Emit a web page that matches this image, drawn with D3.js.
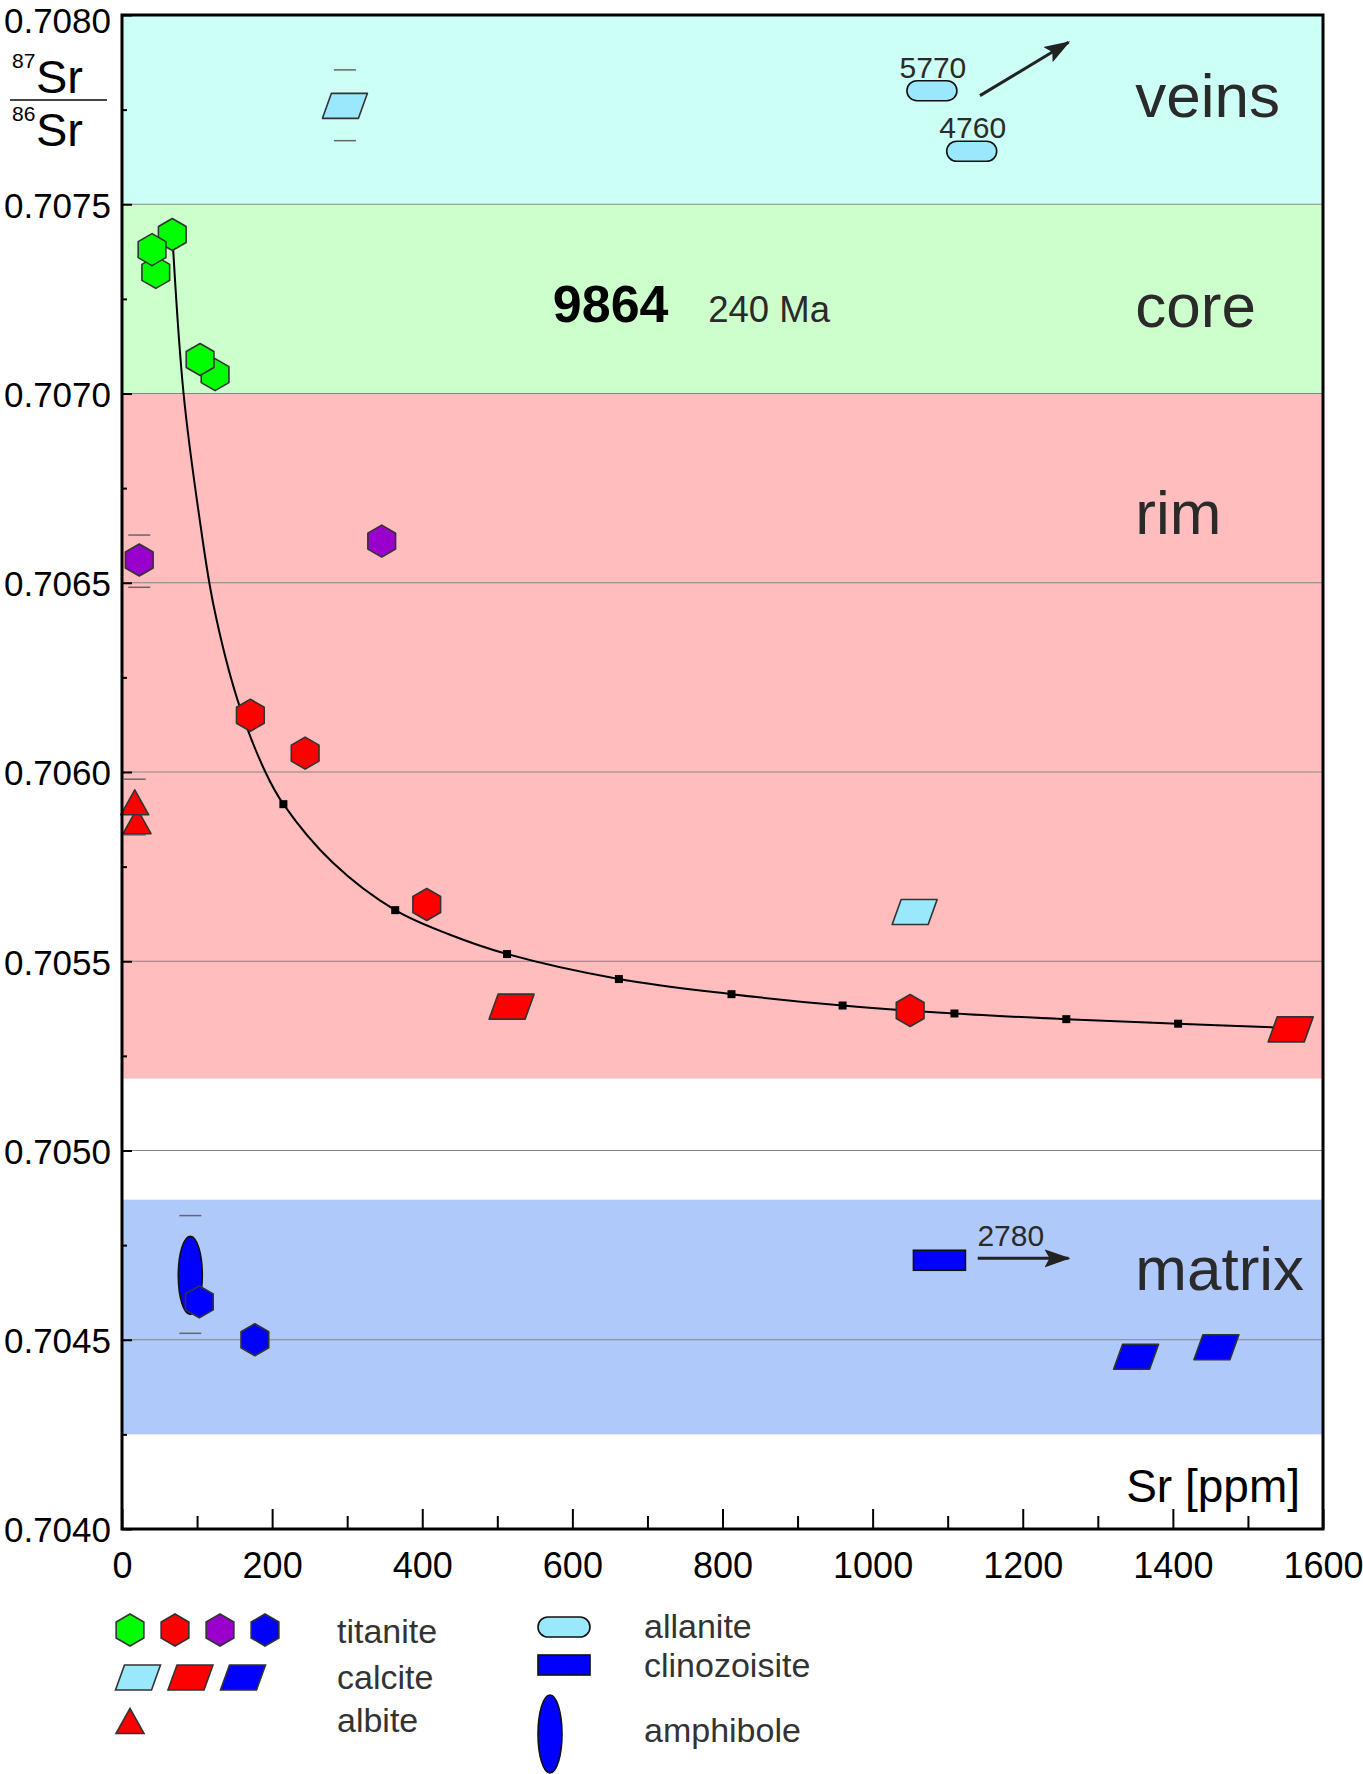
<!DOCTYPE html>
<html>
<head>
<meta charset="utf-8">
<script src="https://cdn.jsdelivr.net/npm/d3@7"></script>
<style>
  body { margin: 0; background: #fff; }
  svg text { font-family: "Liberation Sans", Arial, sans-serif; }
</style>
</head>
<body>
<div id="chart"></div>
<script>
// values: [Sr ppm, 87Sr/86Sr]
var titaniteGreen = [[45, 0.70732], [67, 0.70742], [40, 0.70738], [124, 0.70705], [104, 0.70709]];
var titaniteRed = [[171, 0.70615], [244, 0.70605], [406, 0.70565], [1050, 0.70537]];
var titanitePurple = [[23, 0.70656], [346, 0.70661]];
var titaniteBlue = [[177, 0.70450]];
var titaniteBlueTop = [[103, 0.70460]];
var calciteLight = [[297, 0.70776], [1056, 0.70563]];
var calciteRed = [[519, 0.70538], [1557, 0.70532]];
var calciteBlue = [[1351, 0.704455], [1458, 0.70448]];
var albite = [[20, 0.70587], [17, 0.70592]];
var allanite = [[1079, 0.70780], [1132, 0.70764]];
var allaniteLabels = ["5770", "4760"];
var clinozoisite = [[1089, 0.70471]];
var clinozoisiteLabels = ["2780"];
var amphibole = [[91, 0.70467]];

// error bars [x, low, high]
var errorBars = [[23, 0.706488, 0.706626], [297, 0.707668, 0.707855],
                 [17, 0.705834, 0.705981], [91, 0.704517, 0.704828]];

// mixing curve
var curvePts = [[67, 0.70742], [82, 0.70700], [104, 0.70666], [122, 0.70644], [154, 0.70619],
  [191, 0.70600], [215, 0.705915], [281, 0.70576], [364, 0.705635], [437, 0.70557],
  [513, 0.705519], [662, 0.705453], [812, 0.705413], [960, 0.705383], [1109, 0.705362],
  [1258, 0.705347], [1407, 0.705335], [1537, 0.705325]];
var curveMarks = [[215, 0.705915], [364, 0.705635], [513, 0.705519], [662, 0.705453],
  [812, 0.705413], [960, 0.705383], [1109, 0.705362], [1258, 0.705347], [1407, 0.705335]];

// zones
var zoneNames = ["veins", "core", "rim", "matrix"];
var zoneTop = [0.7080, 0.7075, 0.7070, 0.70487];
var zoneBottom = [0.7075, 0.7070, 0.70519, 0.70425];
var zoneLabelY = [0.707731, 0.707177, 0.706629, 0.704631];

var xTicks = [0, 200, 400, 600, 800, 1000, 1200, 1400, 1600];
var xMinor = [100, 300, 500, 700, 900, 1100, 1300, 1500];
var yTicks = [0.7040, 0.7045, 0.7050, 0.7055, 0.7060, 0.7065, 0.7070, 0.7075, 0.7080];
var yMinor = [0.70425, 0.70475, 0.70525, 0.70575, 0.70625, 0.70675, 0.70725, 0.70775];
var gridVals = [0.7045, 0.7050, 0.7055, 0.7060, 0.7065, 0.7070, 0.7075];

var zoneColor = { veins: "#ccfff5", core: "#ccffcc", rim: "#ffbdbd", matrix: "#b0c9fb" };
var fill = { green: "#00ff00", red: "#ff0000", purple: "#9900cc", blue: "#0000ff", light: "#9ae8fc" };
var outline = "#333";

var margin = { top: 15, right: 40, bottom: 245, left: 122 },
  width = 1363 - margin.left - margin.right,
  height = 1774 - margin.top - margin.bottom;

var root = d3.select("#chart").append("svg")
  .attr("width", 1363).attr("height", 1774);

var defs = root.append("defs");
defs.append("marker").attr("id", "arrow")
  .attr("markerUnits", "userSpaceOnUse")
  .attr("markerWidth", 28).attr("markerHeight", 20)
  .attr("refX", 24).attr("refY", 10).attr("orient", "auto")
  .append("path").attr("d", "M0,1L26,10L0,19L5,10Z").attr("fill", "#222");

var svg = root.append("g")
  .attr("transform", "translate(" + margin.left + "," + margin.top + ")");

var x = d3.scaleLinear().domain([0, 1600]).range([0, width]);
var y = d3.scaleLinear().domain([0.7040, 0.7080]).range([height, 0]);

// shape helpers
function hexPath(r) {
  var p = d3.range(6).map(function (k) {
    var a = Math.PI / 3 * k - Math.PI / 2;
    return [(r * Math.cos(a)).toFixed(2), (r * Math.sin(a)).toFixed(2)];
  });
  return "M" + p.join("L") + "Z";
}
function paraPath(w, h, s) {
  return "M" + (-w / 2 + s / 2) + "," + (-h / 2) + "L" + (w / 2 + s / 2) + "," + (-h / 2) +
    "L" + (w / 2 - s / 2) + "," + (h / 2) + "L" + (-w / 2 - s / 2) + "," + (h / 2) + "Z";
}
function triPath(w, h) {
  return "M0," + (-h / 2) + "L" + (w / 2) + "," + (h / 2) + "L" + (-w / 2) + "," + (h / 2) + "Z";
}
var HEX = hexPath(16), PARA = paraPath(36, 25, 9), TRI = triPath(28, 25);

// zone bands
svg.selectAll(".zone")
  .data(zoneNames)
  .enter().append("rect")
  .attr("x", 0).attr("width", width)
  .attr("y", function (d, i) { return y(zoneTop[i]); })
  .attr("height", function (d, i) { return y(zoneBottom[i]) - y(zoneTop[i]); })
  .attr("fill", function (d) { return zoneColor[d]; });

// grid
svg.selectAll(".grid")
  .data(gridVals)
  .enter().append("line")
  .attr("x1", 0).attr("x2", width)
  .attr("y1", function (d) { return y(d); })
  .attr("y2", function (d) { return y(d); })
  .attr("stroke", "#858585").attr("stroke-width", 1.2);

// zone labels
svg.selectAll(".zlab")
  .data(zoneNames)
  .enter().append("text")
  .attr("x", x(1350))
  .attr("y", function (d, i) { return y(zoneLabelY[i]); })
  .attr("font-size", 62).attr("fill", "#2a2a2a")
  .text(function (d) { return d; });

// axes
function styleAxis(g) {
  g.select(".domain").remove();
  g.selectAll(".tick line").attr("stroke", "#000").attr("stroke-width", 2);
  g.selectAll(".tick text").attr("font-size", 36).attr("fill", "#000")
    .attr("font-family", "'Liberation Sans', Arial, sans-serif");
}
svg.append("g")
  .attr("transform", "translate(0," + height + ")")
  .call(d3.axisBottom(x).tickValues(xTicks).tickSize(-20).tickPadding(23).tickFormat(d3.format("d")))
  .call(styleAxis);
svg.append("g")
  .attr("transform", "translate(0," + height + ")")
  .call(d3.axisBottom(x).tickValues(xMinor).tickSize(-13).tickFormat(""))
  .call(styleAxis);
svg.append("g")
  .call(d3.axisLeft(y).tickValues(yTicks).tickSize(-10).tickPadding(11).tickFormat(d3.format(".4f")))
  .call(styleAxis)
  .selectAll(".tick text").attr("font-size", 35)
  // keep the top label inside the page
  .attr("dy", function (d) { return d >= 0.7080 ? "0.49em" : "0.37em"; });
svg.append("g")
  .call(d3.axisLeft(y).tickValues(yMinor).tickSize(-5).tickFormat(""))
  .call(styleAxis);

// mixing curve
svg.append("path")
  .datum(curvePts)
  .attr("fill", "none").attr("stroke", "#000").attr("stroke-width", 2)
  .attr("d", d3.line()
    .x(function (d) { return x(d[0]); })
    .y(function (d) { return y(d[1]); })
    .curve(d3.curveCatmullRom.alpha(0.5)));
svg.selectAll(".cmark")
  .data(curveMarks)
  .enter().append("rect")
  .attr("x", function (d) { return x(d[0]) - 4; })
  .attr("y", function (d) { return y(d[1]) - 4; })
  .attr("width", 8).attr("height", 8).attr("fill", "#000");

// error bar caps
errorBars.forEach(function (e) {
  [e[1], e[2]].forEach(function (v) {
    svg.append("line")
      .attr("x1", x(e[0]) - 11).attr("x2", x(e[0]) + 11)
      .attr("y1", y(v)).attr("y2", y(v))
      .attr("stroke", "#666").attr("stroke-width", 1.5);
  });
});

function drawShapes(data, d, color) {
  svg.selectAll(null)
    .data(data)
    .enter().append("path")
    .attr("d", d)
    .attr("transform", function (p) { return "translate(" + x(p[0]) + "," + y(p[1]) + ")"; })
    .attr("fill", color).attr("stroke", outline).attr("stroke-width", 1.6)
    .attr("stroke-linejoin", "round");
}

// amphibole ellipse
svg.selectAll(null)
  .data(amphibole)
  .enter().append("ellipse")
  .attr("cx", function (d) { return x(d[0]); })
  .attr("cy", function (d) { return y(d[1]); })
  .attr("rx", 12).attr("ry", 39)
  .attr("fill", fill.blue).attr("stroke", "#111").attr("stroke-width", 1.6);

drawShapes(titaniteGreen, HEX, fill.green);
drawShapes(titaniteRed, HEX, fill.red);
drawShapes(titanitePurple, HEX, fill.purple);
drawShapes(titaniteBlue, HEX, fill.blue);
drawShapes(titaniteBlueTop, HEX, fill.blue);
drawShapes(calciteLight, PARA, fill.light);
drawShapes(calciteRed, PARA, fill.red);
drawShapes(calciteBlue, PARA, fill.blue);
drawShapes(albite, TRI, fill.red);

// allanite pills
svg.selectAll(null)
  .data(allanite)
  .enter().append("rect")
  .attr("x", function (d) { return x(d[0]) - 25; })
  .attr("y", function (d) { return y(d[1]) - 10; })
  .attr("width", 50).attr("height", 20).attr("rx", 10)
  .attr("fill", fill.light).attr("stroke", "#111").attr("stroke-width", 1.6);
svg.selectAll(null)
  .data(allanite)
  .enter().append("text")
  .attr("x", function (d) { return x(d[0]) + 1; })
  .attr("y", function (d) { return y(d[1]) - 13; })
  .attr("text-anchor", "middle").attr("font-size", 30).attr("fill", "#2a2a2a")
  .text(function (d, i) { return allaniteLabels[i]; });

// clinozoisite
svg.selectAll(null)
  .data(clinozoisite)
  .enter().append("rect")
  .attr("x", function (d) { return x(d[0]) - 26; })
  .attr("y", function (d) { return y(d[1]) - 10; })
  .attr("width", 52).attr("height", 20)
  .attr("fill", fill.blue).attr("stroke", "#111").attr("stroke-width", 1.6);
svg.selectAll(null)
  .data(clinozoisite)
  .enter().append("text")
  .attr("x", function (d) { return x(d[0]) + 38; })
  .attr("y", function (d) { return y(d[1]) - 14; })
  .attr("font-size", 30).attr("fill", "#2a2a2a")
  .text(function (d, i) { return clinozoisiteLabels[i]; });

// off-scale arrows
svg.append("line")
  .attr("x1", x(1143)).attr("y1", y(0.707787))
  .attr("x2", x(1261)).attr("y2", y(0.707928))
  .attr("stroke", "#222").attr("stroke-width", 3).attr("marker-end", "url(#arrow)");
svg.append("line")
  .attr("x1", x(1140)).attr("y1", y(0.704715))
  .attr("x2", x(1261)).attr("y2", y(0.704715))
  .attr("stroke", "#222").attr("stroke-width", 3).attr("marker-end", "url(#arrow)");

// sample name
svg.append("text").attr("x", x(574)).attr("y", y(0.70719))
  .attr("font-size", 52).attr("font-weight", "bold").attr("fill", "#000").text("9864");
svg.append("text").attr("x", x(781)).attr("y", y(0.70719))
  .attr("font-size", 36.5).attr("fill", "#2a2a2a").text("240 Ma");

// x title
svg.append("text").attr("x", width - 23).attr("y", height - 27)
  .attr("text-anchor", "end").attr("font-size", 46).attr("fill", "#000").text("Sr [ppm]");

// frame
svg.append("rect").attr("x", 0).attr("y", 0).attr("width", width).attr("height", height)
  .attr("fill", "none").attr("stroke", "#000").attr("stroke-width", 3);

// y title 87Sr/86Sr
var yt = root.append("g").attr("fill", "#000");
yt.append("text").attr("x", 12).attr("y", 68).attr("font-size", 21).text("87");
yt.append("text").attr("x", 36).attr("y", 93).attr("font-size", 47).text("Sr");
yt.append("line").attr("x1", 10).attr("x2", 107).attr("y1", 100).attr("y2", 100)
  .attr("stroke", "#444").attr("stroke-width", 2);
yt.append("text").attr("x", 12).attr("y", 121).attr("font-size", 21).text("86");
yt.append("text").attr("x", 36).attr("y", 146).attr("font-size", 47).text("Sr");

// legend
var lg = root.append("g");
var legHex = [fill.green, fill.red, fill.purple, fill.blue];
var legPara = [fill.light, fill.red, fill.blue];
lg.selectAll(null).data(legHex).enter().append("path")
  .attr("d", HEX)
  .attr("transform", function (d, i) { return "translate(" + (130 + i * 45) + ",1630)"; })
  .attr("fill", function (d) { return d; }).attr("stroke", outline).attr("stroke-width", 1.6);
lg.selectAll(null).data(legPara).enter().append("path")
  .attr("d", PARA)
  .attr("transform", function (d, i) { return "translate(" + (138 + i * 52.5) + ",1677.5)"; })
  .attr("fill", function (d) { return d; }).attr("stroke", outline).attr("stroke-width", 1.6);
lg.append("path").attr("d", TRI).attr("transform", "translate(130,1721)")
  .attr("fill", fill.red).attr("stroke", outline).attr("stroke-width", 1.6);
lg.append("rect").attr("x", 538).attr("y", 1617).attr("width", 52).attr("height", 20).attr("rx", 10)
  .attr("fill", fill.light).attr("stroke", "#111").attr("stroke-width", 1.6);
lg.append("rect").attr("x", 538).attr("y", 1655).attr("width", 52).attr("height", 20)
  .attr("fill", fill.blue).attr("stroke", "#111").attr("stroke-width", 1.6);
lg.append("ellipse").attr("cx", 550).attr("cy", 1734).attr("rx", 12).attr("ry", 39)
  .attr("fill", fill.blue).attr("stroke", "#111").attr("stroke-width", 1.6);

var legText = [["titanite", 337, 1642.5], ["calcite", 337, 1689], ["albite", 337, 1732],
  ["allanite", 644, 1638], ["clinozoisite", 644, 1677], ["amphibole", 644, 1742]];
lg.selectAll(null).data(legText).enter().append("text")
  .attr("x", function (d) { return d[1]; }).attr("y", function (d) { return d[2]; })
  .attr("font-size", 34).attr("fill", "#333")
  .text(function (d) { return d[0]; });
</script>
</body>
</html>
